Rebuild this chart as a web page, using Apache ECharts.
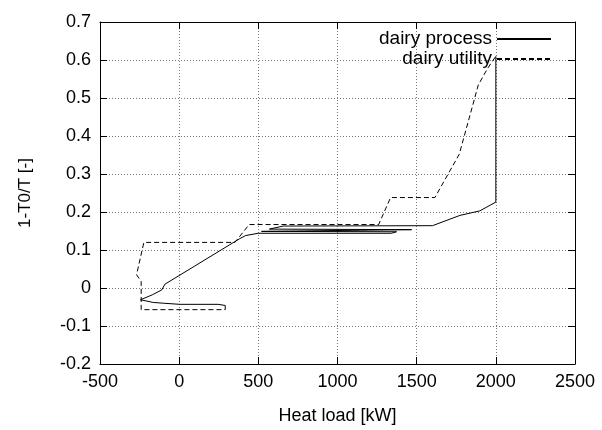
<!DOCTYPE html>
<html>
<head>
<meta charset="utf-8">
<script src="https://cdn.jsdelivr.net/npm/echarts@6/dist/echarts.min.js"></script>
<style>html,body{margin:0;padding:0;background:#fff}#c{width:602px;height:430px}</style>
</head>
<body>
<div id="c"></div>
<script>
var xTicks = [-500, 0, 500, 1000, 1500, 2000, 2500];
var yTicks = [-0.2, -0.1, 0, 0.1, 0.2, 0.3, 0.4, 0.5, 0.6, 0.7];
var seriesNames = ['dairy process', 'dairy utility'];

// dairy process: heat load [kW]
var processX = [291, 246, 4, -101, -164, -244, -170, -110, -90, 383, 420, 499, 1340, 1373, 520, 1468, 570, 657, 1600, 1773, 1780, 1899, 2000, 2000];
// dairy process: 1-T0/T [-]
var processY = [-0.046, -0.043, -0.043, -0.040, -0.038, -0.031, -0.018, -0.005, 0.010, 0.130, 0.138, 0.144, 0.144, 0.148, 0.149, 0.1535, 0.155, 0.163, 0.164, 0.191, 0.194, 0.203, 0.226, 0.610];

// dairy utility: heat load [kW]
var utilityX = [291, 291, -240, -240, -269, -223, 352, 442, 1260, 1335, 1615, 1769, 1889, 1945, 2000];
// dairy utility: 1-T0/T [-]
var utilityY = [-0.046, -0.057, -0.057, 0.017, 0.035, 0.120, 0.120, 0.167, 0.167, 0.238, 0.238, 0.352, 0.534, 0.576, 0.610];

function pairs(xs, ys) { return xs.map(function (x, i) { return [x, ys[i]]; }); }

var font = 'Liberation Sans, Arial, sans-serif';
var fs = 18;
var gridLine = { show: true, lineStyle: { color: '#777', width: 1, type: [1, 2] } };
var chart = echarts.init(document.getElementById('c'), null, { renderer: 'canvas' });

var xBase = { type: 'value', min: xTicks[0], max: xTicks[xTicks.length - 1], interval: 500 };
var yBase = { type: 'value', min: yTicks[0], max: yTicks[yTicks.length - 1], interval: 0.1 };
var border = { show: true, onZero: false, lineStyle: { color: '#000', width: 1 } };
var ticks = { show: true, inside: true, length: 7, lineStyle: { color: '#000' } };

chart.setOption({
  animation: false,
  backgroundColor: '#fff',
  grid: { left: 100, right: 27, top: 22, bottom: 57, containLabel: false },
  legend: {
    data: seriesNames,
    orient: 'vertical',
    align: 'right',
    right: 50,
    top: 29,
    padding: 0,
    itemWidth: 54,
    itemHeight: 14,
    itemGap: 0,
    itemStyle: { opacity: 0 },
    textStyle: { fontFamily: font, fontSize: 19, color: '#000', lineHeight: 20 }
  },
  xAxis: [
    Object.assign({}, xBase, {
      position: 'bottom',
      name: 'Heat load [kW]', nameLocation: 'middle', nameGap: 43,
      nameTextStyle: { fontFamily: font, fontSize: fs, color: '#000' },
      axisLine: border, axisTick: ticks,
      axisLabel: { fontFamily: font, fontSize: fs, color: '#000', margin: 9,
        formatter: function (v) { return String(v); } },
      splitLine: gridLine
    }),
    Object.assign({}, xBase, {
      position: 'top', axisLine: border, axisTick: ticks,
      axisLabel: { show: false }, splitLine: { show: false }
    })
  ],
  yAxis: [
    Object.assign({}, yBase, {
      position: 'left',
      name: '1-T0/T [-]', nameLocation: 'middle', nameGap: 66,
      nameTextStyle: { fontFamily: font, fontSize: 17, color: '#000' },
      axisLine: border, axisTick: ticks,
      axisLabel: { fontFamily: font, fontSize: fs, color: '#000', margin: 9,
        formatter: function (v) { return String(Math.round(v * 10) / 10); } },
      splitLine: gridLine
    }),
    Object.assign({}, yBase, {
      position: 'right', axisLine: border, axisTick: ticks,
      axisLabel: { show: false }, splitLine: { show: false }
    })
  ],
  series: [
    {
      name: seriesNames[0], type: 'line', xAxisIndex: 0, yAxisIndex: 0,
      data: pairs(processX, processY),
      symbol: 'none', showSymbol: false,
      lineStyle: { color: '#000', width: 1, type: 'solid' },
      itemStyle: { color: '#000' }
    },
    {
      name: seriesNames[1], type: 'line', xAxisIndex: 0, yAxisIndex: 0,
      data: pairs(utilityX, utilityY),
      symbol: 'none', showSymbol: false,
      lineStyle: { color: '#000', width: 1, type: [5, 3] },
      itemStyle: { color: '#000' }
    }
  ]
});
</script>
</body>
</html>
